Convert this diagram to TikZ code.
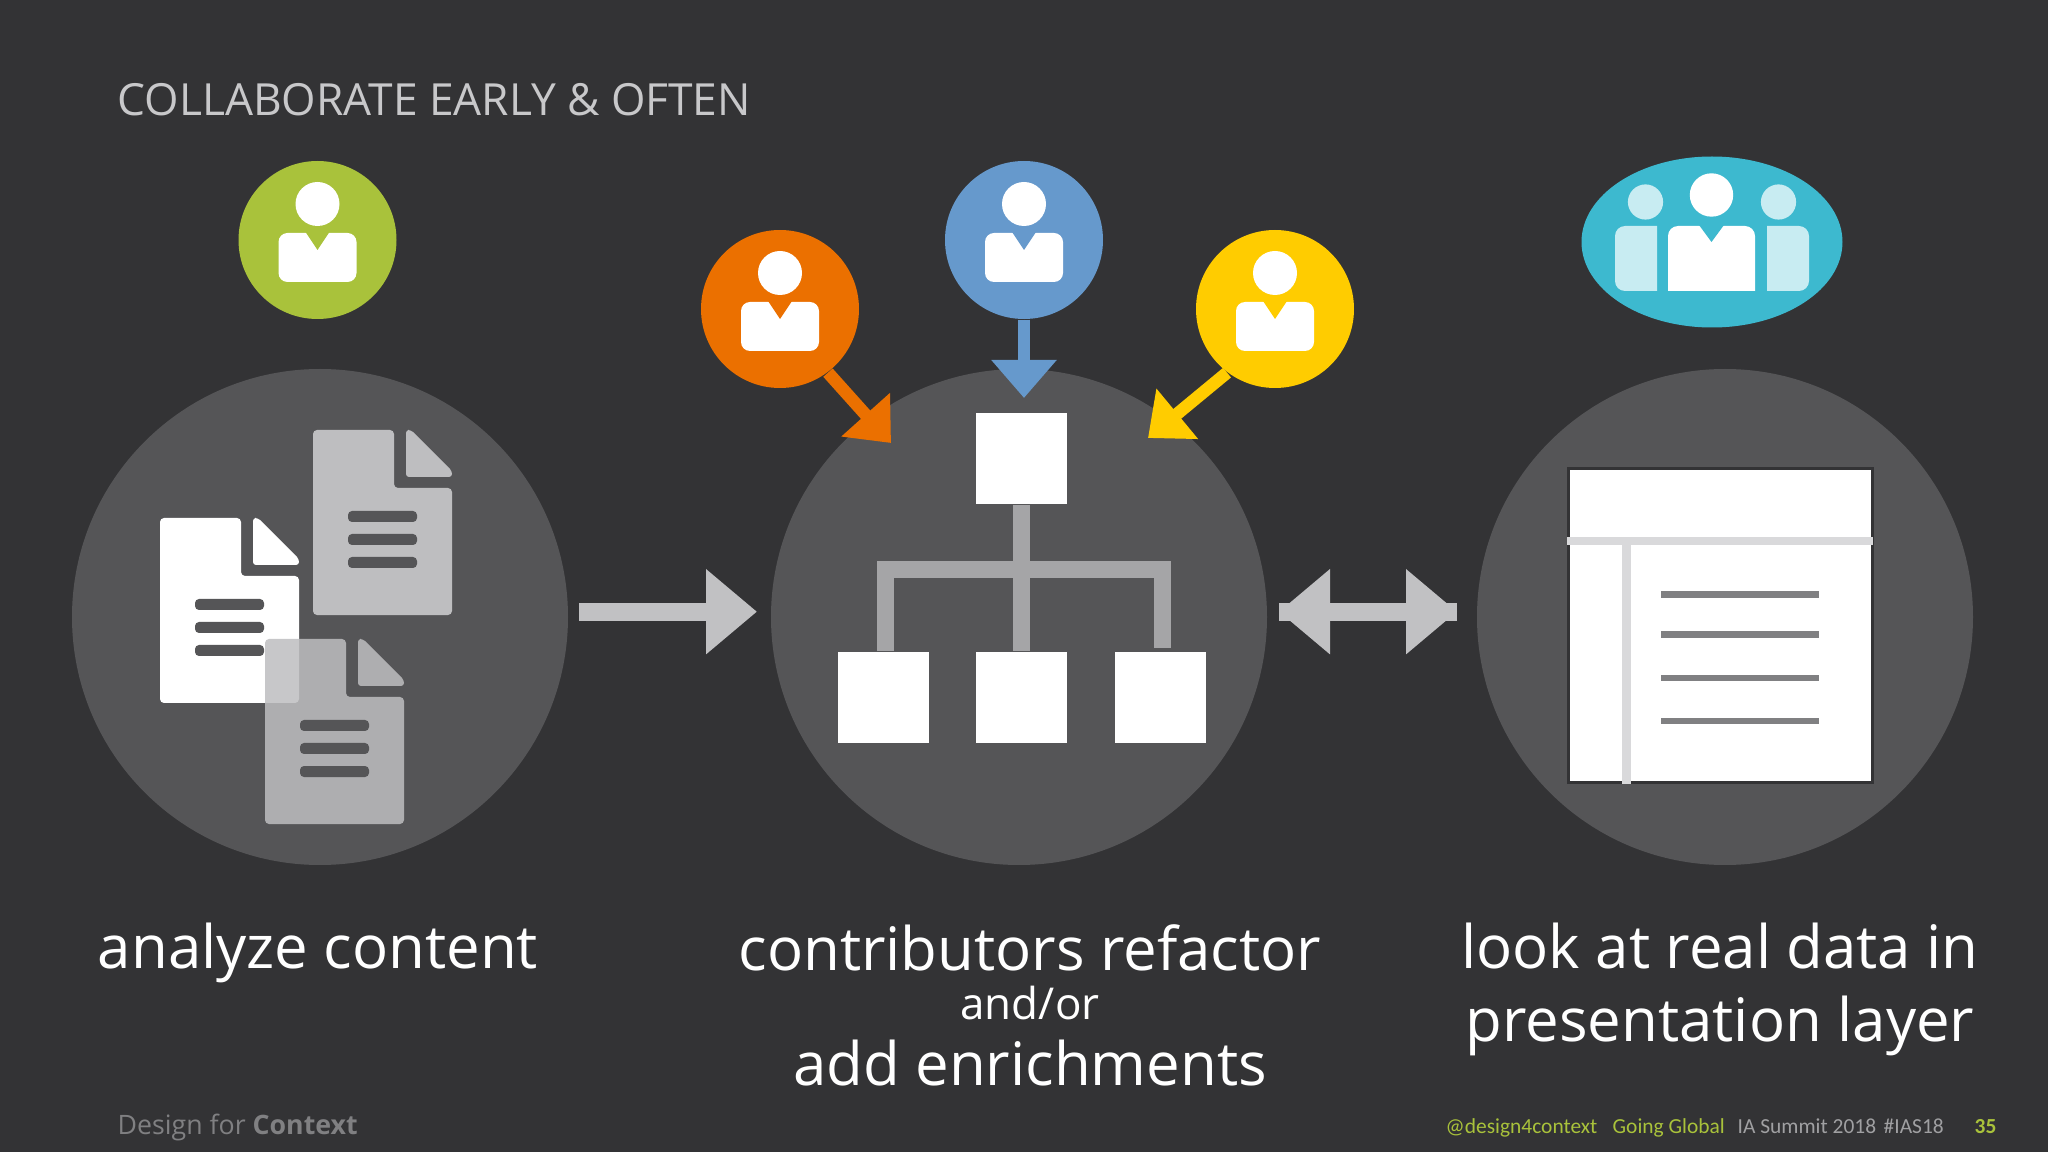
\documentclass[tikz,border=0pt]{standalone}
\usepackage{fontspec}
\setmainfont{Open Sans}
\newfontfamily\calfont{Carlito}
\usepackage{xcolor}
\usetikzlibrary{arrows.meta,positioning,shapes.geometric,calc}

\definecolor{slide}{HTML}{333335}
\definecolor{disc}{HTML}{555557}
\definecolor{arrowgrey}{HTML}{C1C1C3}
\definecolor{treegrey}{HTML}{A5A5A7}
\definecolor{docgrey}{HTML}{BEBEC0}
\definecolor{tablebar}{HTML}{D9D9DB}
\definecolor{tableline}{HTML}{808082}
\definecolor{titlegrey}{HTML}{C8C8CA}
\definecolor{footgrey}{HTML}{A0A0A2}
\definecolor{usergreen}{HTML}{A9C23B}
\definecolor{userorange}{HTML}{EB7000}
\definecolor{userblue}{HTML}{6699CC}
\definecolor{useryellow}{HTML}{FFCC00}
\definecolor{userteal}{HTML}{3DB9CF}
\definecolor{teamlight}{HTML}{C8ECF2}

\tikzset{
  bigdisc/.style={draw=none, fill=disc, circle, inner sep=0, minimum size=4.96cm},
  usr/.style={draw=none, circle, inner sep=0, minimum size=1.58cm},
  box/.style={draw=none, fill=white, rectangle, inner sep=0, minimum size=.91cm},
  caption/.style={text=white, font=\fontsize{17.05}{20}\selectfont, anchor=base, inner sep=0},
  foot/.style={anchor=base west, inner sep=0, font=\calfont\fontsize{6.1}{8}\selectfont},
  bigarrow/.style={line width=.18cm, draw=arrowgrey, fill=arrowgrey},
  userarrow/.style={line width=.125cm, -{Triangle[length=.38cm,width=.63cm]}},
  treeline/.style={line width=.17cm, draw=treegrey},
}

% one person: head and body, around the centre of its circle
\newcommand{\personicon}[3]{
  \fill[white] (#1,#2-.36) circle (.22);
  \fill[white, rounded corners=.09cm] (#1-.39,#2-.07) rectangle (#1+.39,#2+.42);
  \fill[#3] (#1-.12,#2-.08) -- (#1,#2+.1) -- (#1+.12,#2-.08) -- cycle;
}
% one page: sheet with folded corner and three text lines
\newcommand{\pageicon}[4]{
  \begin{scope}[shift={(#1,#2)}, y=-1cm]
  \fill[#3, opacity=#4, rounded corners=.04cm] (0,0) -- (.81,0) -- (.81,.58) -- (1.39,.58) -- (1.39,1.85) -- (0,1.85) -- cycle;
  \fill[#3, opacity=#4, rounded corners=.03cm] (.93,0) -- (.98,0) -- (1.39,.41) -- (1.39,.47) -- (.93,.47) -- cycle;
  \foreach \ln in {.81,1.04,1.27}
    \fill[disc, rounded corners=.04cm] (.35,\ln) rectangle (1.04,\ln+.11);
  \end{scope}
}

\begin{document}
\begin{tikzpicture}[x=1cm,y=-1cm]
\useasboundingbox (0,0) rectangle (20.48,11.52);
\fill[slide] (0,0) rectangle (20.48,11.52);

\node[anchor=base west, text=titlegrey, font=\fontsize{12.6}{15}\selectfont, inner sep=0] (title) at (1.17,1.16) {COLLABORATE EARLY \& OFTEN};

% Big discs
\node[bigdisc] (docs) at (3.2,6.17) {};
\node[bigdisc] (tree) at (10.19,6.17) {};
\node[bigdisc] (view) at (17.25,6.17) {};

% Pages
\pageicon{3.13}{4.30}{docgrey}{1}
\pageicon{1.60}{5.18}{white}{1}
\pageicon{2.65}{6.39}{docgrey}{.85}

% Org tree
\node[box] (root) at (10.215,4.585) {};
\node[box] (leafa) at (8.83,6.975) {};
\node[box] (leafb) at (10.215,6.975) {};
\node[box] (leafc) at (11.60,6.975) {};
\draw[treeline] (root) -- (leafb);
\draw[treeline] ([xshift=.02cm]leafa.north) |- (root|-0,5.70) -| ([xshift=.025cm,yshift=.03cm]leafc.north);

% Table
\node[draw=slide, line width=.03cm, fill=white, rectangle, inner sep=0, minimum width=3.04cm, minimum height=3.14cm] (page) at (17.2,6.26) {};
\fill[tablebar] (15.67,5.37) rectangle (18.73,5.45);
\fill[tablebar] (16.22,5.45) rectangle (16.31,7.84);
\foreach \ln in {5.945,6.346,6.78,7.21}
  \fill[tableline] (16.61,\ln-.032) rectangle (18.19,\ln+.032);

% Users
\node[usr, fill=usergreen] (greenuser) at (3.175,2.40) {};
\node[usr, fill=userorange] (orangeuser) at (7.80,3.09) {};
\node[usr, fill=userblue] (blueuser) at (10.24,2.40) {};
\node[usr, fill=useryellow] (yellowuser) at (12.75,3.09) {};
\personicon{3.175}{2.40}{usergreen}
\personicon{7.80}{3.09}{userorange}
\personicon{10.24}{2.40}{userblue}
\personicon{12.75}{3.09}{useryellow}

% Team
\node[ellipse, draw=none, fill=userteal, inner sep=0, minimum width=2.61cm, minimum height=1.71cm] (team) at (17.12,2.42) {};
\fill[teamlight] (16.455,2.02) circle (.176);
\fill[teamlight] (17.785,2.02) circle (.176);
\fill[teamlight] (16.57,2.91) [rounded corners=.1cm] -- (16.15,2.91) -- (16.15,2.26) [sharp corners] -- (16.57,2.26) -- cycle;
\fill[teamlight] (17.67,2.91) [rounded corners=.1cm] -- (18.09,2.91) -- (18.09,2.26) [sharp corners] -- (17.67,2.26) -- cycle;
\fill[white] (17.115,1.95) circle (.217);
\fill[white] (16.68,2.91) [rounded corners=.1cm] -- (16.68,2.26) -- (17.55,2.26) [sharp corners] -- (17.55,2.91) -- cycle;
\fill[userteal] (16.99,2.25) -- (17.115,2.42) -- (17.24,2.25) -- cycle;

% Arrow ends
\coordinate (orangetip) at (8.91,4.43);
\coordinate (bluetip) at (10.24,3.98);
\coordinate (yellowtip) at (11.48,4.38);
\coordinate (flowa) at (5.79,6.117);
\coordinate (flowb) at (7.57,6.117);
\coordinate (flowc) at (12.79,6.117);
\coordinate (flowd) at (14.57,6.117);

% Connections
\draw[userarrow, draw=userorange, fill=userorange] (orangeuser.-53) -- (orangetip);
\draw[userarrow, draw=userblue, fill=userblue] (blueuser) -- (bluetip);
\draw[userarrow, draw=useryellow, fill=useryellow] (yellowuser.-127) -- (yellowtip);
\draw[bigarrow, -{Triangle[length=.51cm,width=.82cm]}] (flowa) -- (flowb);
\draw[bigarrow] (flowc) -- (flowd);
\draw[bigarrow, {Triangle[length=.51cm,width=.82cm]}-{Triangle[length=.51cm,width=.82cm]}] (flowc) -- (flowd);

% Captions
\node[caption] (capa) at (3.18,9.68) {analyze content};
\node[caption] (capb) at (10.3,9.70) {contributors refactor};
\node[caption, font=\fontsize{12.5}{15}\selectfont] (capc) at (10.3,10.19) {and/or};
\node[caption] (capd) at (10.3,10.85) {add enrichments};
\node[caption] (cape) at (17.2,9.68) {look at real data in};
\node[caption] (capf) at (17.2,10.41) {presentation layer};

% Footer
\node[anchor=base west, inner sep=0, text=tableline, font=\fontsize{7.6}{9}\selectfont] (brand) at (1.17,11.34) {Design for \textbf{Context}};
\node[foot, text=usergreen] (handle) at (14.45,11.33) {@design4context};
\node[foot, text=usergreen] (going) at (16.12,11.33) {Going Global};
\node[foot, text=footgrey] (summit) at (17.37,11.33) {IA Summit 2018};
\node[foot, text=footgrey] (hash) at (18.83,11.33) {\#IAS18};
\node[foot, text=usergreen, font=\calfont\bfseries\fontsize{6.1}{8}\selectfont] (num) at (19.74,11.33) {35};
\end{tikzpicture}
\end{document}
